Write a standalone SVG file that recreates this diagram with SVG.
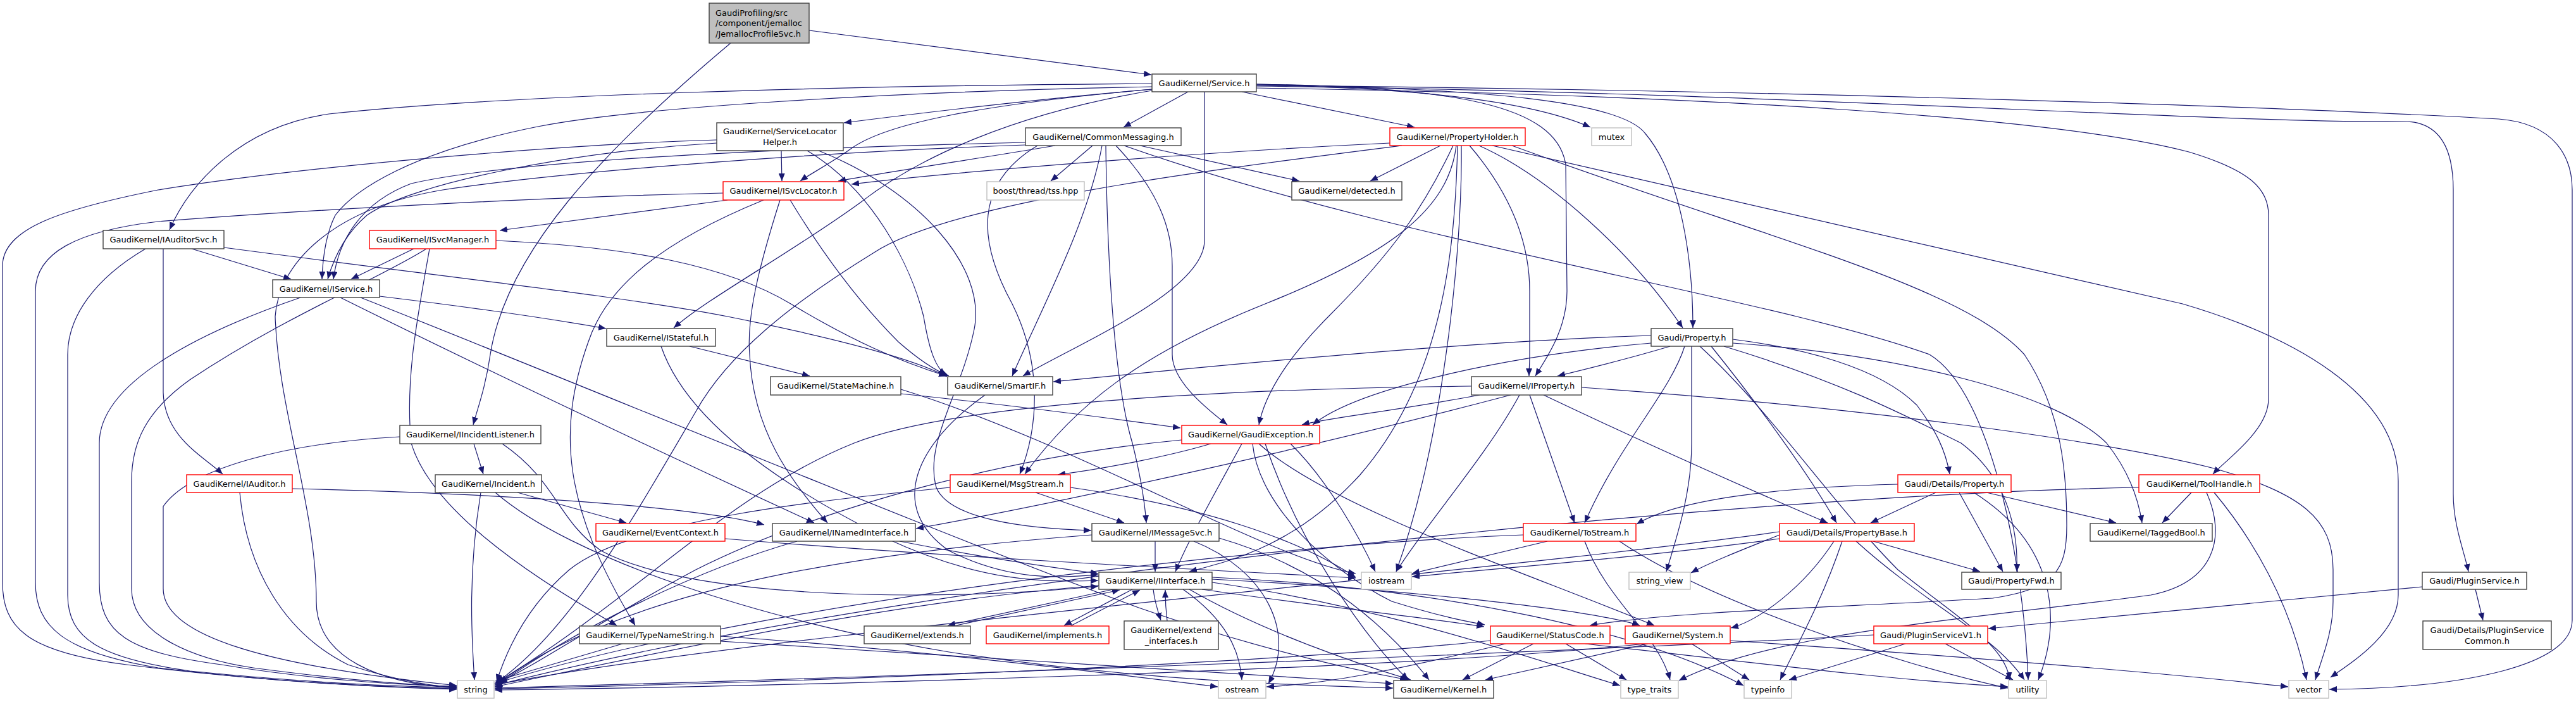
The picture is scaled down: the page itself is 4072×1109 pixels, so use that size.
<svg xmlns="http://www.w3.org/2000/svg" width="4072" height="1109" viewBox="0 0 4072 1109">
<defs>
<marker id="a" viewBox="0 0 12 10" refX="12" refY="5" markerWidth="12" markerHeight="10" markerUnits="userSpaceOnUse" orient="auto"><path d="M0,0 L12,5 L0,10 z" fill="#191970"/></marker>
<style>
.e{fill:none;stroke:#191970;stroke-width:1.2;marker-end:url(#a)}
.n{fill:#fff;stroke:#404040;stroke-width:1.4}
.r{fill:#fff;stroke:#ff0000;stroke-width:1.4}
.x{fill:#fff;stroke:#bfbfbf;stroke-width:1.4}
.root{fill:#bfbfbf;stroke:#404040;stroke-width:1.4}
text{font-family:"DejaVu Sans","Liberation Sans",sans-serif;font-size:13px;fill:#000}
.c{text-anchor:middle}
</style>
</defs>
<rect width="4072" height="1109" fill="#fff"/>
<g id="edges">
<path class="e" d="M1279,48 L1820,118"/>
<path class="e" d="M1155,68 C950,240 800,400 775,560 C768,610 755,645 748,671"/>
<path class="e" d="M1821,141 C1600,160 1420,183 1334,194"/>
<path class="e" d="M1878,145 L1776,201"/>
<path class="e" d="M1963,145 L2236,201"/>
<path class="e" d="M1986,134 C2250,140 2420,160 2514,201"/>
<path class="e" d="M1986,133 C2350,140 2560,160 2600,210 C2660,280 2676,420 2676,518"/>
<path class="e" d="M1986,133 C2300,138 2460,165 2475,260 L2477,460 C2477,520 2445,565 2427,594"/>
<path class="e" d="M1821,132 C1300,136 800,150 520,180 C380,200 300,290 268,363"/>
<path class="e" d="M1821,137 C1400,145 1000,170 850,200 C650,240 560,300 530,340 C515,370 510,410 509,441"/>
<path class="e" d="M1821,141 C1550,165 1400,195 1345,235 C1310,260 1280,275 1265,286"/>
<path class="e" d="M1821,143 C1600,180 1450,250 1360,320 C1250,400 1120,470 1065,518"/>
<path class="e" d="M1904,145 L1904,380 C1904,460 1700,545 1617,594"/>
<path class="e" d="M1986,139 C2700,150 3250,185 3460,240 C3560,270 3586,300 3586,340 L3586,630 C3586,680 3520,725 3498,749"/>
<path class="e" d="M1986,136 C2800,145 3500,195 3800,192 C3860,192 3878,240 3878,300 L3878,780 C3878,830 3895,870 3902,903"/>
<path class="e" d="M1986,135 C2800,142 3600,168 3950,188 C4040,195 4066,250 4066,300 L4066,980 C4066,1050 3900,1087 3682,1089"/>
<path class="e" d="M1235,238 L1236,286"/>
<path class="e" d="M1133,221 C900,228 500,260 250,300 C100,330 4,360 4,420 L4,920 C4,990 40,1030 200,1050 C400,1075 600,1086 722,1089"/>
<path class="e" d="M1133,226 C900,240 650,290 580,340 C545,370 527,410 518,441"/>
<path class="e" d="M1276,238 C1380,300 1440,420 1460,500 C1470,560 1480,580 1495,593"/>
<path class="e" d="M1294,238 C1450,300 1560,420 1540,520 C1520,620 1460,700 1480,770 C1500,820 1620,835 1725,838"/>
<path class="e" d="M1727,230 L1661,286"/>
<path class="e" d="M1802,230 L2054,286"/>
<path class="e" d="M1621,229 C1300,240 900,270 700,300 C520,330 440,420 435,500 C440,650 500,800 500,950 C500,1040 600,1080 722,1087"/>
<path class="e" d="M1621,225 C1200,235 800,255 650,290 C570,320 535,380 527,441"/>
<path class="e" d="M1668,230 C1550,250 1400,272 1325,286"/>
<path class="e" d="M1640,230 C1540,290 1545,380 1600,480 C1650,580 1640,680 1612,749"/>
<path class="e" d="M1742,230 C1720,350 1650,480 1600,594"/>
<path class="e" d="M1748,230 C1750,400 1760,600 1790,700 C1805,760 1810,800 1812,826"/>
<path class="e" d="M1764,230 C1830,300 1853,360 1853,420 L1853,560 C1853,600 1900,640 1940,671"/>
<path class="e" d="M1777,230 C2200,380 2800,470 3050,560 C3150,620 3200,900 3206,1074"/>
<path class="e" d="M2197,226 C1900,240 1500,272 1346,291"/>
<path class="e" d="M2277,230 L2166,286"/>
<path class="e" d="M2338,230 C2450,280 2580,400 2660,518"/>
<path class="e" d="M2323,230 C2400,320 2418,400 2418,460 L2418,560 C2418,575 2417,585 2417,594"/>
<path class="e" d="M2297,230 C2250,330 2200,400 2100,500 C2040,560 2000,620 1990,671"/>
<path class="e" d="M2302,230 C2290,330 2200,400 2000,480 C1800,560 1700,640 1620,749"/>
<path class="e" d="M2304,230 C2300,400 2280,600 2150,750 C2050,860 1950,885 1880,903"/>
<path class="e" d="M2310,230 C2312,400 2280,700 2207,903"/>
<path class="e" d="M2216,230 C1900,270 1500,320 1380,400 C1250,480 1150,560 1100,650 C1000,820 900,1000 782,1080"/>
<path class="e" d="M2359,230 C2800,330 3200,420 3450,480 C3620,530 3791,620 3791,760 L3791,940 C3791,1000 3720,1045 3684,1070"/>
<path class="e" d="M2390,230 C2800,380 3100,450 3200,560 C3260,650 3267,750 3267,830 C3267,900 3250,930 3150,945 C2900,960 2650,965 2513,988"/>
<path class="e" d="M1143,305 C900,310 500,330 250,350 C120,365 56,400 56,460 L56,920 C56,990 100,1030 250,1055 C450,1080 620,1086 722,1088"/>
<path class="e" d="M1150,316 L790,364"/>
<path class="e" d="M1207,316 C1050,380 960,450 930,540 C880,680 890,800 1004,988"/>
<path class="e" d="M1233,316 C1200,420 1180,500 1185,560 C1190,680 1250,760 1308,826"/>
<path class="e" d="M1249,316 C1300,400 1360,480 1420,540 C1460,575 1485,588 1500,594"/>
<path class="e" d="M654,393 L555,441"/>
<path class="e" d="M674,393 C600,440 450,500 300,600 C230,650 208,700 208,760 L208,930 C208,1000 300,1040 400,1055 C550,1075 650,1082 722,1085"/>
<path class="e" d="M679,393 C660,500 640,600 650,700 C680,800 820,900 975,988"/>
<path class="e" d="M784,380 C1000,390 1150,420 1250,480 C1350,540 1420,570 1496,594"/>
<path class="e" d="M303,393 L460,441"/>
<path class="e" d="M258,393 L258,620 C260,690 320,720 352,749"/>
<path class="e" d="M230,393 C150,440 107,500 107,560 L107,940 C107,1010 160,1040 300,1060 C500,1080 650,1085 722,1086"/>
<path class="e" d="M354,391 C700,437 1000,470 1150,500 C1350,540 1450,570 1497,595"/>
<path class="e" d="M600,468 C700,480 850,500 958,519"/>
<path class="e" d="M475,470 C330,520 157,600 157,700 L157,920 C157,1000 200,1030 350,1050 C500,1075 650,1083 722,1084"/>
<path class="e" d="M538,470 C800,600 1100,740 1287,826"/>
<path class="e" d="M570,470 C900,600 1500,850 1800,960 C2000,1030 2150,1060 2225,1074"/>
<path class="e" d="M1090,547 L1280,594"/>
<path class="e" d="M1045,547 C1080,650 1200,750 1400,850 C1550,920 1650,920 1736,917"/>
<path class="e" d="M2739,536 C2850,550 2970,580 3030,640 C3060,680 3075,710 3082,749"/>
<path class="e" d="M2705,547 C2780,640 2860,750 2903,826"/>
<path class="e" d="M2725,547 C2900,600 3000,650 3100,700 C3180,760 3190,850 3188,903"/>
<path class="e" d="M2640,547 C2580,565 2520,580 2462,594"/>
<path class="e" d="M2610,530 C2300,540 1900,580 1665,603"/>
<path class="e" d="M2739,542 C3000,560 3250,620 3330,700 C3370,750 3382,800 3386,826"/>
<path class="e" d="M2663,547 C2640,620 2560,700 2505,826"/>
<path class="e" d="M2674,547 L2674,700 C2674,780 2650,850 2634,903"/>
<path class="e" d="M2610,542 C2400,560 2150,610 2075,671"/>
<path class="e" d="M2687,547 C2800,650 2900,800 3000,900 C3100,980 3170,1020 3177,1074"/>
<path class="e" d="M2339,624 C2200,650 2100,660 2058,671"/>
<path class="e" d="M2388,624 C2100,700 1700,790 1448,835"/>
<path class="e" d="M2402,624 C2350,720 2260,820 2207,903"/>
<path class="e" d="M2418,624 L2489,826"/>
<path class="e" d="M2440,624 C2600,700 2780,780 2889,826"/>
<path class="e" d="M2326,610 C1900,615 1500,640 1350,700 C1150,780 1000,950 785,1078"/>
<path class="e" d="M2500,612 C2900,640 3300,690 3500,740 C3640,780 3688,820 3688,900 L3688,950 C3688,1000 3670,1040 3660,1074"/>
<path class="e" d="M1914,701 C1850,720 1750,740 1672,750"/>
<path class="e" d="M1963,701 C1920,780 1880,850 1858,903"/>
<path class="e" d="M1980,701 C1990,800 2100,900 2200,950 C2280,975 2320,982 2347,987"/>
<path class="e" d="M1990,701 C2100,800 2400,900 2615,988"/>
<path class="e" d="M2040,701 C2100,760 2150,850 2174,903"/>
<path class="e" d="M2000,701 C2050,850 2150,1000 2226,1074"/>
<path class="e" d="M1868,695 C1600,720 1300,800 1100,900 C950,980 850,1050 785,1080"/>
<path class="e" d="M1424,622 C1600,640 1750,660 1866,676"/>
<path class="e" d="M1424,615 C1700,700 2000,880 2143,906"/>
<path class="e" d="M1557,624 C1450,700 1400,800 1500,870 C1600,920 1680,912 1736,908"/>
<path class="e" d="M1637,778 L1777,826"/>
<path class="e" d="M1502,770 C1300,790 1000,820 900,900 C830,960 800,1030 785,1077"/>
<path class="e" d="M1692,770 C1900,800 2050,850 2143,912"/>
<path class="e" d="M1826,855 L1826,903"/>
<path class="e" d="M1726,845 C1400,870 1000,920 790,1078"/>
<path class="e" d="M1887,855 C2000,900 2050,1000 2005,1080"/>
<path class="e" d="M1927,850 C2100,900 2200,1000 2259,1074"/>
<path class="e" d="M1422,855 C1550,880 1650,895 1736,906"/>
<path class="e" d="M1260,855 C1100,900 900,1000 790,1080"/>
<path class="e" d="M749,701 L764,749"/>
<path class="e" d="M794,701 C880,760 880,820 950,870 C1100,950 1500,950 1736,926"/>
<path class="e" d="M632,690 C450,700 300,740 258,800 L258,930 C258,1000 400,1050 722,1083"/>
<path class="e" d="M818,778 L990,826"/>
<path class="e" d="M760,778 C740,900 745,1000 750,1074"/>
<path class="e" d="M783,778 C900,880 1200,980 1500,1030 C1800,1075 2050,1083 2202,1087"/>
<path class="e" d="M1146,851 C1500,880 1900,900 2143,913"/>
<path class="e" d="M462,772 C800,780 1100,800 1208,829"/>
<path class="e" d="M379,778 C390,900 450,1000 550,1050 C640,1080 700,1085 722,1086"/>
<path class="e" d="M984,1017 L783,1076"/>
<path class="e" d="M1139,1013 C1600,1040 2000,1070 2202,1080"/>
<path class="e" d="M1139,1005 C1500,1030 1800,1070 1925,1085"/>
<path class="e" d="M1760,931 L1498,988"/>
<path class="e" d="M1507,989 L1770,932"/>
<path class="e" d="M1790,931 L1682,988"/>
<path class="e" d="M1692,989 L1802,932"/>
<path class="e" d="M1823,931 C1825,950 1830,965 1835,980"/>
<path class="e" d="M1845,981 C1843,965 1842,948 1842,932"/>
<path class="e" d="M1870,931 C1940,980 1960,1030 1963,1074"/>
<path class="e" d="M1900,931 C2100,960 2250,975 2346,990"/>
<path class="e" d="M1916,915 C2200,930 2500,960 2592,988"/>
<path class="e" d="M1880,931 C2000,1000 2150,1050 2230,1074"/>
<path class="e" d="M1916,920 C2200,960 2450,1050 2561,1083"/>
<path class="e" d="M1916,912 C2300,930 2600,1000 2756,1083"/>
<path class="e" d="M1737,925 C1400,950 1000,1040 782,1085"/>
<path class="e" d="M2424,1017 L2312,1074"/>
<path class="e" d="M2475,1017 L2571,1074"/>
<path class="e" d="M2380,1017 C2200,1060 2100,1080 2002,1085"/>
<path class="e" d="M2506,1017 C2800,1050 3000,1075 3174,1085"/>
<path class="e" d="M2356,1012 C2000,1050 1200,1080 782,1088"/>
<path class="e" d="M2605,1017 L2348,1074"/>
<path class="e" d="M2600,1017 C2200,1060 1200,1085 782,1090"/>
<path class="e" d="M2674,1017 L2765,1074"/>
<path class="e" d="M2735,1012 C3000,1030 3400,1060 3617,1085"/>
<path class="e" d="M3012,1017 L2828,1074"/>
<path class="e" d="M3075,1017 L3182,1074"/>
<path class="e" d="M2962,1003 C2500,1030 1400,1070 782,1087"/>
<path class="e" d="M3829,927 C3500,960 3300,980 3143,993"/>
<path class="e" d="M3913,931 L3925,980"/>
<path class="e" d="M3060,778 L2957,826"/>
<path class="e" d="M3097,778 L3166,903"/>
<path class="e" d="M3140,778 L3345,826"/>
<path class="e" d="M3120,778 C3250,860 3260,980 3222,1074"/>
<path class="e" d="M3000,765 C2800,770 2650,790 2587,828"/>
<path class="e" d="M2813,845 C2750,870 2700,890 2673,905"/>
<path class="e" d="M2813,851 C2600,880 2400,895 2232,911"/>
<path class="e" d="M2912,855 C2880,950 2840,1020 2814,1074"/>
<path class="e" d="M2934,855 C3050,960 3150,1000 3200,1074"/>
<path class="e" d="M2961,855 L3130,903"/>
<path class="e" d="M2899,855 C2850,930 2780,980 2736,992"/>
<path class="e" d="M2813,840 C2400,900 1200,1000 782,1082"/>
<path class="e" d="M2446,855 L2232,906"/>
<path class="e" d="M2408,845 C2000,860 1200,950 782,1080"/>
<path class="e" d="M2505,855 C2540,950 2620,1000 2640,1074"/>
<path class="e" d="M2560,855 C2700,950 3000,1050 3174,1087"/>
<path class="e" d="M3464,778 L3418,826"/>
<path class="e" d="M3500,778 C3560,850 3620,950 3646,1074"/>
<path class="e" d="M3381,770 C2800,780 1500,900 782,1083"/>
<path class="e" d="M3488,778 C3520,850 3500,920 3400,940 C3100,980 2800,1000 2654,1075"/>
</g>
<g id="node-jemalloc"><rect class="root" x="1121" y="5" width="158" height="63"/><text x="1131" y="24.5">GaudiProfiling/src</text><text x="1131" y="41">/component/jemalloc</text><text x="1131" y="57.5">/JemallocProfileSvc.h</text></g>
<g id="node-service"><rect class="n" x="1821" y="117" width="165" height="28"/><text class="c" x="1903.5" y="135.5">GaudiKernel/Service.h</text></g>
<g id="node-servicelocatorhelper"><rect class="n" x="1133" y="194" width="200" height="44"/><text class="c" x="1233" y="212">GaudiKernel/ServiceLocator</text><text class="c" x="1233" y="228.5">Helper.h</text></g>
<g id="node-commonmessaging"><rect class="n" x="1621" y="202" width="246" height="28"/><text class="c" x="1744" y="220.5">GaudiKernel/CommonMessaging.h</text></g>
<g id="node-propertyholder"><rect class="r" x="2197" y="202" width="214" height="28"/><text class="c" x="2304" y="220.5">GaudiKernel/PropertyHolder.h</text></g>
<g id="node-mutex"><rect class="x" x="2516" y="202" width="63" height="28"/><text class="c" x="2547.5" y="220.5">mutex</text></g>
<g id="node-isvclocator"><rect class="r" x="1143" y="287" width="191" height="29"/><text class="c" x="1238.5" y="306">GaudiKernel/ISvcLocator.h</text></g>
<g id="node-boost"><rect class="x" x="1560" y="287" width="154" height="29"/><text class="c" x="1637" y="306">boost/thread/tss.hpp</text></g>
<g id="node-detected"><rect class="n" x="2042" y="287" width="174" height="29"/><text class="c" x="2129" y="306">GaudiKernel/detected.h</text></g>
<g id="node-iauditorsvc"><rect class="n" x="163" y="364" width="191" height="29"/><text class="c" x="258.5" y="383">GaudiKernel/IAuditorSvc.h</text></g>
<g id="node-isvcmanager"><rect class="r" x="584" y="364" width="200" height="29"/><text class="c" x="684" y="383">GaudiKernel/ISvcManager.h</text></g>
<g id="node-iservice"><rect class="n" x="431" y="442" width="169" height="28"/><text class="c" x="515.5" y="460.5">GaudiKernel/IService.h</text></g>
<g id="node-istateful"><rect class="n" x="959" y="519" width="172" height="28"/><text class="c" x="1045" y="537.5">GaudiKernel/IStateful.h</text></g>
<g id="node-property"><rect class="n" x="2610" y="519" width="129" height="28"/><text class="c" x="2674.5" y="537.5">Gaudi/Property.h</text></g>
<g id="node-statemachine"><rect class="n" x="1218" y="595" width="206" height="29"/><text class="c" x="1321" y="614">GaudiKernel/StateMachine.h</text></g>
<g id="node-smartif"><rect class="n" x="1498" y="595" width="166" height="29"/><text class="c" x="1581" y="614">GaudiKernel/SmartIF.h</text></g>
<g id="node-iproperty"><rect class="n" x="2326" y="595" width="174" height="29"/><text class="c" x="2413" y="614">GaudiKernel/IProperty.h</text></g>
<g id="node-iincidentlistener"><rect class="n" x="632" y="672" width="223" height="29"/><text class="c" x="743.5" y="691">GaudiKernel/IIncidentListener.h</text></g>
<g id="node-gaudiexception"><rect class="r" x="1868" y="672" width="218" height="29"/><text class="c" x="1977" y="691">GaudiKernel/GaudiException.h</text></g>
<g id="node-iauditor"><rect class="r" x="295" y="750" width="167" height="28"/><text class="c" x="378.5" y="768.5">GaudiKernel/IAuditor.h</text></g>
<g id="node-incident"><rect class="n" x="688" y="750" width="168" height="28"/><text class="c" x="772" y="768.5">GaudiKernel/Incident.h</text></g>
<g id="node-msgstream"><rect class="r" x="1502" y="750" width="190" height="28"/><text class="c" x="1597" y="768.5">GaudiKernel/MsgStream.h</text></g>
<g id="node-detailsproperty"><rect class="r" x="3000" y="750" width="179" height="28"/><text class="c" x="3089.5" y="768.5">Gaudi/Details/Property.h</text></g>
<g id="node-toolhandle"><rect class="r" x="3381" y="750" width="191" height="28"/><text class="c" x="3476.5" y="768.5">GaudiKernel/ToolHandle.h</text></g>
<g id="node-eventcontext"><rect class="r" x="942" y="827" width="204" height="28"/><text class="c" x="1044" y="845.5">GaudiKernel/EventContext.h</text></g>
<g id="node-inamedinterface"><rect class="n" x="1221" y="827" width="226" height="28"/><text class="c" x="1334" y="845.5">GaudiKernel/INamedInterface.h</text></g>
<g id="node-imessagesvc"><rect class="n" x="1726" y="827" width="201" height="28"/><text class="c" x="1826.5" y="845.5">GaudiKernel/IMessageSvc.h</text></g>
<g id="node-tostream"><rect class="r" x="2408" y="827" width="178" height="28"/><text class="c" x="2497" y="845.5">GaudiKernel/ToStream.h</text></g>
<g id="node-propertybase"><rect class="r" x="2813" y="827" width="213" height="28"/><text class="c" x="2919.5" y="845.5">Gaudi/Details/PropertyBase.h</text></g>
<g id="node-taggedbool"><rect class="n" x="3304" y="827" width="193" height="28"/><text class="c" x="3400.5" y="845.5">GaudiKernel/TaggedBool.h</text></g>
<g id="node-iinterface"><rect class="n" x="1737" y="904" width="179" height="27"/><text class="c" x="1826.5" y="922">GaudiKernel/IInterface.h</text></g>
<g id="node-iostream"><rect class="x" x="2152" y="904" width="79" height="27"/><text class="c" x="2191.5" y="922">iostream</text></g>
<g id="node-string_view"><rect class="x" x="2575" y="904" width="97" height="27"/><text class="c" x="2623.5" y="922">string_view</text></g>
<g id="node-propertyfwd"><rect class="n" x="3101" y="904" width="157" height="27"/><text class="c" x="3179.5" y="922">Gaudi/PropertyFwd.h</text></g>
<g id="node-pluginservice"><rect class="n" x="3829" y="904" width="165" height="27"/><text class="c" x="3911.5" y="922">Gaudi/PluginService.h</text></g>
<g id="node-typenamestring"><rect class="n" x="916" y="989" width="223" height="28"/><text class="c" x="1027.5" y="1007.5">GaudiKernel/TypeNameString.h</text></g>
<g id="node-extends"><rect class="n" x="1366" y="989" width="168" height="28"/><text class="c" x="1450" y="1007.5">GaudiKernel/extends.h</text></g>
<g id="node-implements"><rect class="r" x="1559" y="989" width="194" height="28"/><text class="c" x="1656" y="1007.5">GaudiKernel/implements.h</text></g>
<g id="node-extend_interfaces"><rect class="n" x="1777" y="981" width="149" height="45"/><text class="c" x="1851.5" y="999.5">GaudiKernel/extend</text><text class="c" x="1851.5" y="1016.5">_interfaces.h</text></g>
<g id="node-statuscode"><rect class="r" x="2356" y="989" width="189" height="28"/><text class="c" x="2450.5" y="1007.5">GaudiKernel/StatusCode.h</text></g>
<g id="node-system"><rect class="r" x="2569" y="989" width="166" height="28"/><text class="c" x="2652" y="1007.5">GaudiKernel/System.h</text></g>
<g id="node-pluginservicev1"><rect class="r" x="2962" y="989" width="180" height="28"/><text class="c" x="3052" y="1007.5">Gaudi/PluginServiceV1.h</text></g>
<g id="node-pluginservicecommon"><rect class="n" x="3830" y="981" width="203" height="45"/><text class="c" x="3931.5" y="999.5">Gaudi/Details/PluginService</text><text class="c" x="3931.5" y="1016.5">Common.h</text></g>
<g id="node-string"><rect class="x" x="723" y="1075" width="58" height="28"/><text class="c" x="752" y="1093.5">string</text></g>
<g id="node-ostream"><rect class="x" x="1926" y="1075" width="75" height="28"/><text class="c" x="1963.5" y="1093.5">ostream</text></g>
<g id="node-kernel"><rect class="n" x="2203" y="1075" width="158" height="28"/><text class="c" x="2282" y="1093.5">GaudiKernel/Kernel.h</text></g>
<g id="node-type_traits"><rect class="x" x="2562" y="1075" width="91" height="28"/><text class="c" x="2607.5" y="1093.5">type_traits</text></g>
<g id="node-typeinfo"><rect class="x" x="2757" y="1075" width="75" height="28"/><text class="c" x="2794.5" y="1093.5">typeinfo</text></g>
<g id="node-utility"><rect class="x" x="3175" y="1075" width="60" height="28"/><text class="c" x="3205" y="1093.5">utility</text></g>
<g id="node-vector"><rect class="x" x="3618" y="1075" width="63" height="28"/><text class="c" x="3649.5" y="1093.5">vector</text></g>
</svg>
